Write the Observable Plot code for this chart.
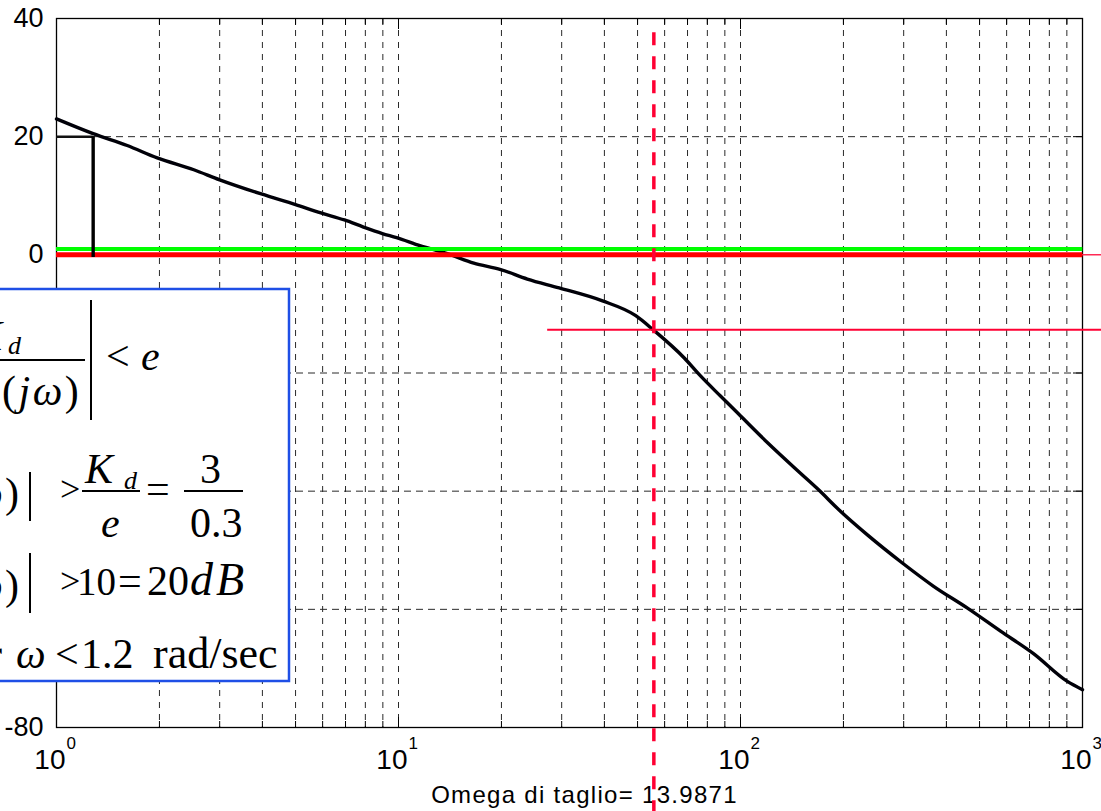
<!DOCTYPE html>
<html>
<head>
<meta charset="utf-8">
<script src="https://cdn.jsdelivr.net/npm/d3@7"></script>
<script src="https://cdn.jsdelivr.net/npm/@observablehq/plot@0.6"></script>
<style>
html, body { margin: 0; padding: 0; background: #fff; overflow: hidden; }
#chart { width: 1101px; height: 811px; }
</style>
</head>
<body>
<div id="chart"></div>
<script>
// ---- data ----
const omega = [1, 1.28, 1.61, 1.97, 2.52, 3.0, 3.97, 5.0, 5.93, 6.95, 7.9, 8.97, 9.87, 11.6, 13.9, 16.6, 19.9, 23.8, 29.5, 39.5, 49.4, 55.6, 68.6, 76.4, 87.4, 98.6, 120, 150, 168, 196, 235, 298, 367, 461, 576, 719, 903, 1000];
const magDb = [23.0, 20.5, 18.5, 16.4, 14.4, 12.7, 10.3, 8.5, 7.1, 5.9, 4.7, 3.6, 2.9, 1.5, 0.2, -1.4, -2.5, -4.1, -5.6, -7.8, -10.3, -12.7, -17.5, -20.5, -23.9, -26.9, -31.8, -37.0, -39.6, -43.4, -47.4, -52.2, -56.1, -59.8, -63.7, -67.5, -72.2, -73.6];

const yTicks = [40, 20, 0, -20, -40, -60, -80];
const yTickLabels = ["40", "20", "0", "-20", "-40", "-60", "-80"];
const yGrid = [20, 0, -20, -40, -60];
const decades = [1, 10, 100, 1000];
const decadeBase = ["10", "10", "10", "10"];
const decadeExp = ["0", "1", "2", "3"];
const minorX = [2, 3, 4, 5, 6, 7, 8, 9, 20, 30, 40, 50, 60, 70, 80, 90, 200, 300, 400, 500, 600, 700, 800, 900];
const xGrid = [...minorX, 10, 100];

const cutoffLabel = "Omega di taglio= 13.9871";
const markerOmega = 55.8;      // red dashed vertical
const markerDb = -12.7;        // thin red horizontal
const markerLineStartOmega = 27.3;
const dashedTopDb = 37.6;
const specOmega = 1.28;        // black marker
const specDb = 20;
const specBottomDb = -0.45;
const greenDb = 1;
const zeroDb = 0;

const curve = omega.map((w, i) => ({w, db: magDb[i]}));

const chart = Plot.plot({
  width: 1101,
  height: 811,
  marginLeft: 56,
  marginRight: 19,
  marginTop: 18,
  marginBottom: 84,
  x: {type: "log", domain: [1, 1000], axis: null},
  y: {domain: [-80, 40], axis: null},
  style: {fontFamily: "'Liberation Sans', Arial, sans-serif", background: "white", color: "black"},
  marks: [
    // grid
    Plot.ruleX(xGrid, {stroke: "#2a2a2a", strokeWidth: 1, strokeDasharray: "6,6"}),
    Plot.ruleY(yGrid, {stroke: "#2a2a2a", strokeWidth: 1, strokeDasharray: "7,5"}),
    // box frame
    Plot.frame({stroke: "black", strokeWidth: 1.3}),
    // inward ticks
    Plot.axisX(decades, {anchor: "bottom", tickSize: -10, tickFormat: () => "", label: null}),
    Plot.axisX(decades, {anchor: "top", tickSize: -10, tickFormat: () => "", label: null}),
    Plot.axisX(minorX, {anchor: "bottom", tickSize: -6, tickFormat: () => "", label: null}),
    Plot.axisX(minorX, {anchor: "top", tickSize: -6, tickFormat: () => "", label: null}),
    Plot.axisY(yTicks, {anchor: "left", tickSize: -10, tickFormat: () => "", label: null}),
    Plot.axisY(yTicks, {anchor: "right", tickSize: -10, tickFormat: () => "", label: null}),
    // magnitude curve
    Plot.line(curve, {x: "w", y: "db", stroke: "#000008", strokeWidth: 3.4, strokeLinejoin: "round", curve: "monotone-x"}),
    // reference lines
    Plot.ruleY([greenDb], {x1: 1, x2: 1002, stroke: "#00ff00", strokeWidth: 4}),
    Plot.ruleY([zeroDb], {x1: 1, x2: 1400, stroke: "#ff2a55", strokeWidth: 1.5}),
    Plot.ruleY([zeroDb], {x1: 1, x2: 1002, stroke: "#ff0000", strokeWidth: 5}),
    Plot.ruleY([markerDb], {x1: markerLineStartOmega, x2: 1400, stroke: "#ff0033", strokeWidth: 2}),
    // black specification marker
    Plot.ruleY([specDb], {x1: 1, x2: specOmega, stroke: "#111", strokeWidth: 2.5}),
    Plot.ruleX([specOmega], {y1: specBottomDb, y2: specDb, stroke: "#000", strokeWidth: 3.4}),
    // tick labels
    Plot.text(yTicks, {x: 1, y: d => d, text: (d, i) => yTickLabels[i], textAnchor: "end", dx: -13, fontSize: 27, lineAnchor: "middle", fill: "black"}),
    Plot.text(decades, {x: d => d, y: -80, text: (d, i) => decadeBase[i], textAnchor: "end", dx: 9, dy: 41, lineAnchor: "bottom", fontSize: 28, fill: "black"}),
    Plot.text(decades, {x: d => d, y: -80, text: (d, i) => decadeExp[i], textAnchor: "start", dx: 10, dy: 21, lineAnchor: "bottom", fontSize: 17, fill: "black"}),
    Plot.text([cutoffLabel], {frameAnchor: "bottom", text: d => d, dx: 15, dy: 75, lineAnchor: "bottom", fontSize: 24, fill: "black"}),
    // red dashed vertical
    Plot.ruleX([markerOmega], {y1: dashedTopDb, y2: -110, stroke: "#ff0033", strokeWidth: 3.5, strokeDasharray: "13,11"})
  ]
});

document.getElementById("chart").appendChild(chart);

const svg = d3.select(chart);
svg.style("overflow", "hidden");
svg.selectAll("text").filter(function () { return this.textContent === cutoffLabel; })
  .attr("letter-spacing", "1.3px");

// ---- formula annotation box (inset, partly cut by the left edge) ----
const box = svg.append("g")
  .attr("font-family", "'Liberation Serif', 'Times New Roman', serif")
  .attr("font-size", 42)
  .attr("fill", "black");

box.append("rect")
  .attr("x", -3).attr("y", 289).attr("width", 292).attr("height", 392)
  .attr("fill", "white").attr("stroke", "#1f4fe6").attr("stroke-width", 2.5);

function txt(parts, x, y, anchor = "start", size = 42, extra = {}) {
  const t = box.append("text").attr("x", x).attr("y", y).attr("text-anchor", anchor).attr("font-size", size);
  for (const [k, v] of Object.entries(extra)) t.attr(k, v);
  for (const p of parts) {
    const s = t.append("tspan").text(p.t);
    if (p.i) s.attr("font-style", "italic");
    if (p.s) s.attr("font-size", p.s);
  }
  return t;
}
function bar(x1, y1, x2, y2, w = 2) {
  box.append("line").attr("x1", x1).attr("y1", y1).attr("x2", x2).attr("y2", y2)
    .attr("stroke", "black").attr("stroke-width", w);
}
const U = t => ({t});
const I = t => ({t, i: true});

// line 1: | K_d / (1 + G(jω)) | < e
bar(-190, 300, -190, 420);
txt([U("e"), U("\u221E"), U(" =")], -200, 370, "end");
txt([I("K")], 2, 350, "end");
txt([I("d")], 8, 354, "start", 26);
bar(-100, 360, 85, 360, 2);
txt([U("1\u00A0+\u00A0"), I("G")], -6, 405, "end");
txt([U("("), I("j"), I("\u03C9"), U(")")], 2, 405, "start", 42, {"letter-spacing": "2.5px"});
bar(91, 300, 91, 420);
txt([U("<")], 106, 370);
txt([I("e")], 141, 370);

// line 2: |G(jω)| > K_d / e = 3 / 0.3
txt([I("G"), U("("), I("j"), I("\u03C9"), U(")")], 21, 507, "end", 42, {"letter-spacing": "2px"});
bar(30, 472, 30, 521);
txt([U(">")], 60, 501, "start", 36);
txt([I("K")], 85, 483);
txt([I("d")], 124, 489, "start", 26);
bar(82, 491, 140, 491);
txt([I("e")], 101, 537);
txt([U("=")], 146, 503);
txt([U("3")], 200, 483);
bar(184, 491, 243, 491);
txt([U("0.3")], 190, 537);

// line 3: |G(jω)| > 10 = 20dB
txt([I("G"), U("("), I("j"), I("\u03C9"), U(")")], 21, 599, "end", 42, {"letter-spacing": "2px"});
bar(30, 553, 30, 613);
txt([U(">")], 60, 593, "start", 36);
txt([U("10")], 77, 595, "start", 39);
txt([U("=")], 118, 595);
txt([U("20")], 147, 595);
txt([I("dB")], 190, 595, "start", 46, {"letter-spacing": "3px"});

// line 4: per ω < 1.2 rad/sec
txt([U("per")], 2, 668, "end");
txt([I("\u03C9")], 16, 668);
txt([U("<")], 55, 668);
txt([U("1.2")], 81, 668);
txt([U("rad/sec")], 153, 668, "start", 44);
</script>
</body>
</html>
